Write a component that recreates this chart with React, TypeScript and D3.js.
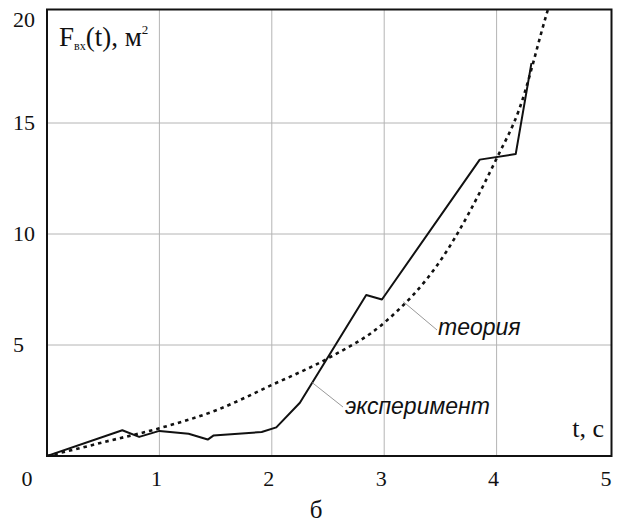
import React from "react";
import * as d3 from "d3";

// экспериментальная кривая
const expT = [0, 0.67, 0.82, 1.0, 1.26, 1.43, 1.48, 1.91, 2.04, 2.25, 2.84, 2.98, 3.85, 4.17, 4.31];
const expF = [0, 1.16, 0.86, 1.13, 1.0, 0.74, 0.92, 1.08, 1.29, 2.4, 7.25, 7.05, 13.35, 13.6, 17.7];

// теоретическая кривая
const theoryT = [0, 0.25, 0.5, 1, 1.5, 2, 2.5, 3, 3.5, 4, 4.2, 4.45, 4.6];
const theoryF = [0, 0.3, 0.62, 1.25, 2.05, 3.2, 4.4, 6.0, 8.8, 13.4, 15.6, 20.0, 22.5];

const xTicks = [0, 1, 2, 3, 4, 5];
const yTicks = [5, 10, 15, 20];

const serif = "Liberation Serif";
const sans = "Liberation Sans";

const App = () => {
  const W = 618;
  const H = 522;
  const x = d3.scaleLinear().domain([0, 5]).range([47, 609]);
  const y = d3.scaleLinear().domain([0, 20]).range([456, 12]);

  const left = x(0);
  const right = x(5) + 2.5;
  const top = 9.5;
  const bottom = y(0);

  const line = d3
    .line<number>()
    .x((_, i) => x(expT[i]))
    .y((d) => y(d));
  const theoryLine = d3
    .line<number>()
    .x((_, i) => x(theoryT[i]))
    .y((d) => y(d))
    .curve(d3.curveMonotoneX);

  const expAt = (t: number) => y(d3.scaleLinear().domain(expT).range(expF)(t));
  const thAt = (t: number) => y(d3.scaleLinear().domain(theoryT).range(theoryF)(t));

  return (
    <svg
      width={W}
      height={H}
      style={{ position: "absolute", left: 0, top: 0, background: "white" }}
    >
      <defs>
        <clipPath id="plot">
          <rect x={left} y={top} width={right - left} height={bottom - top} />
        </clipPath>
      </defs>

      {/* сетка */}
      {xTicks.slice(1, -1).map((t) => (
        <line key={"gx" + t} x1={x(t)} x2={x(t)} y1={top} y2={bottom} stroke="#b4b4b4" strokeWidth={1} />
      ))}
      {yTicks.slice(0, -1).map((v) => (
        <line key={"gy" + v} x1={left} x2={right} y1={y(v)} y2={y(v)} stroke="#b4b4b4" strokeWidth={1} />
      ))}

      <g clipPath="url(#plot)">
        <path
          d={theoryLine(theoryF) || ""}
          fill="none"
          stroke="#111"
          strokeWidth={2.6}
          strokeDasharray="3.5,4"
        />
        <path d={line(expF) || ""} fill="none" stroke="#111" strokeWidth={2} strokeLinejoin="round" />
      </g>

      <rect x={left} y={top} width={right - left} height={bottom - top} fill="none" stroke="#111" strokeWidth={2} />

      {/* подписи осей */}
      <g style={{ fontFamily: serif }} fill="#111">
        {xTicks.map((t) => (
          <text key={"tx" + t} x={t === 0 ? x(t) - 20 : x(t) - 3} y={486} textAnchor="middle" fontSize={22}>
            {t}
          </text>
        ))}
        {yTicks.map((v) => (
          <text key={"ty" + v} x={13} y={Math.max(y(v) + 2, 22)} dominantBaseline="middle" fontSize={22}>
            {v}
          </text>
        ))}
        <text x={59} y={46} fontSize={27}>
          F
          <tspan fontSize={12} dy={4}>вх</tspan>
          <tspan fontSize={27} dy={-4}>(t), м</tspan>
          <tspan fontSize={13} dy={-12}>2</tspan>
        </text>
        <text x={604} y={437} textAnchor="end" fontSize={26}>
          t, с
        </text>
        <text x={316} y={518} textAnchor="middle" fontSize={25}>
          б
        </text>
      </g>

      {/* выноски */}
      <line x1={x(3.17)} y1={thAt(3.17)} x2={437} y2={330} stroke="#999" strokeWidth={1} />
      <line x1={x(2.36)} y1={expAt(2.36)} x2={343} y2={407} stroke="#999" strokeWidth={1} />
      <g style={{ fontFamily: sans, fontStyle: "italic" }} fill="#111" fontSize={23}>
        <text x={438} y={335}>теория</text>
        <text x={345} y={414}>эксперимент</text>
      </g>
    </svg>
  );
};

export default App;
